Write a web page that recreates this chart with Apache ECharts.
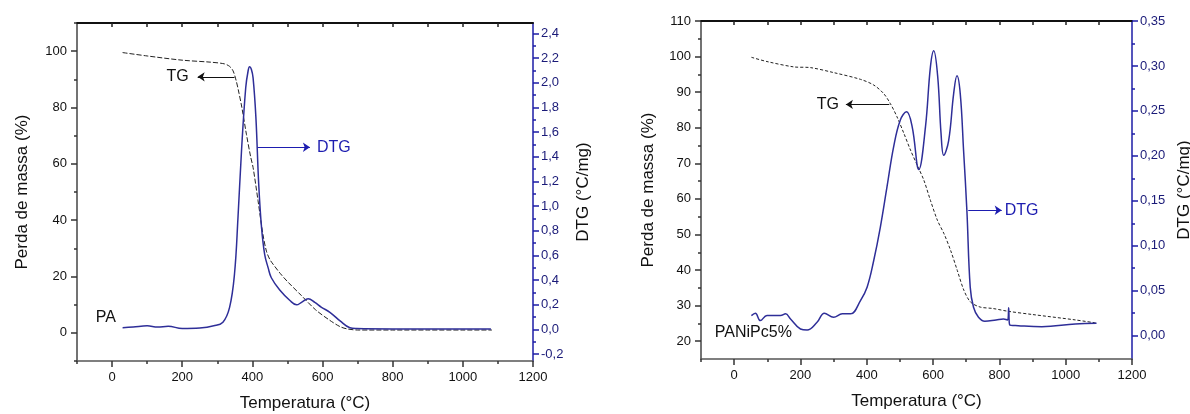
<!DOCTYPE html>
<html>
<head>
<meta charset="utf-8">
<script src="https://cdn.jsdelivr.net/npm/echarts@6/dist/echarts.min.js"></script>
<style>
html,body{margin:0;padding:0;background:#fff;}
#c{width:1190px;height:414px;}
</style>
</head>
<body>
<div id="c"></div>
<script>
// ---------- DATA ----------
// PA (left chart)
var paTgT  = [30,100,200,280,320,335,345,354,362,370,383,395,402,416,430,440,450,460,480,500,540,580,620,650,670,700,800,900,1000,1083];
var paTg   = [99.5,98.3,96.8,96.1,95.5,94.6,93.0,89.4,85.0,80.0,70.5,62.5,58.7,47.0,35.0,29.0,26.0,24.2,21.0,18.2,13.2,8.2,4.5,2.2,1.4,1.0,1.0,1.0,1.0,1.0];
var paDtgT = [30,60,100,130,160,200,250,290,316,335,349,359,369,381,388,392,397,402,410,418,426,435,445,454,478,507,526,540,559,578,597,621,650,678,697,800,900,1000,1080];
var paDtg  = [0.015,0.02,0.03,0.02,0.027,0.008,0.012,0.03,0.06,0.18,0.45,0.91,1.45,1.96,2.10,2.13,2.11,2.04,1.72,1.18,0.83,0.61,0.50,0.42,0.32,0.235,0.20,0.22,0.25,0.22,0.18,0.14,0.07,0.014,0.008,0.005,0.005,0.005,0.005];

// PANiPc5% (right chart)
var pcTgT  = [52,99,180,230,300,381,421,451,471,491,512,532,552,572,592,613,633,653,673,693,713,742,780,827,900,1028,1093];
var pcTg   = [99.8,98.6,97.1,96.9,95.5,93.6,92.0,89.6,86.8,83.1,78.4,73.7,69.5,65.3,59.6,54.0,50.2,45.5,39.9,34.3,31.0,29.6,29.2,28.4,27.5,26.0,25.1];
var pcDtgT = [52,64,79,99,140,155,170,200,220,250,272,300,326,351,381,401,421,441,461,481,501,520,537,557,577,592,602,614,624,632,647,662,672,682,692,702,712,722,737,756,790,812,825,828,831,857,928,1029,1093];
var pcDtg  = [0.0223,0.0249,0.0167,0.0223,0.0223,0.0242,0.0186,0.0074,0.0063,0.0149,0.0249,0.0204,0.0242,0.0242,0.039,0.0539,0.0836,0.1208,0.1654,0.21,0.2397,0.249,0.2323,0.1847,0.232,0.299,0.317,0.288,0.225,0.2007,0.217,0.269,0.289,0.269,0.206,0.139,0.054,0.0316,0.0204,0.016,0.0175,0.0186,0.0175,0.031,0.012,0.0111,0.0100,0.013,0.0137];

// Tick values
var xMajor   = [0,200,400,600,800,1000,1200];
var xMinor   = [-100,100,300,500,700,900,1100];
var xTop     = [0,100,200,300,400,500,600,700,800,900,1000,1100];
var paYMajor = [0,20,40,60,80,100];
var paYMinor = [-10,10,30,50,70,90,110];
var paDMajor = [-0.2,0,0.2,0.4,0.6,0.8,1.0,1.2,1.4,1.6,1.8,2.0,2.2,2.4];
var paDMinor = [-0.1,0.1,0.3,0.5,0.7,0.9,1.1,1.3,1.5,1.7,1.9,2.1,2.3];
var pcYMajor = [20,30,40,50,60,70,80,90,100,110];
var pcYMinor = [25,35,45,55,65,75,85,95,105];
var pcDMajor = [0,0.05,0.10,0.15,0.20,0.25,0.30,0.35];
var pcDMinor = [0.025,0.075,0.125,0.175,0.225,0.275,0.325];

function zip(a,b){return a.map(function(v,i){return [v,b[i]];});}

// ---------- STYLE ----------
var FONT = 'Liberation Sans';
var BLUE = '#2e2e98';
var AXBLUE = '#1c1ca6';
var LBLUE = '#1a1a78';

function xAxes(grid){
  return [
    {type:'value',gridIndex:grid,min:-100,max:1200,position:'bottom',
     name:'Temperatura (°C)',nameLocation:'middle',nameGap:34,
     nameTextStyle:{fontFamily:FONT,fontSize:17,color:'#111'},
     axisLine:{onZero:false,lineStyle:{color:'#555',width:1.5}},
     axisTick:{show:true,customValues:xMajor,length:6,lineStyle:{color:'#333',width:1.5}},
     axisLabel:{customValues:xMajor,margin:10,fontFamily:FONT,fontSize:13,color:'#111',
       formatter:function(v){return String(v);}},
     splitLine:{show:false}},
    {type:'value',gridIndex:grid,min:-100,max:1200,position:'bottom',
     axisLine:{show:false,onZero:false},
     axisTick:{show:true,customValues:xMinor,length:3,lineStyle:{color:'#333',width:1.5}},
     axisLabel:{show:false},splitLine:{show:false}},
    {type:'value',gridIndex:grid,min:-100,max:1200,position:'top',
     axisLine:{onZero:false,lineStyle:{color:'#111',width:2}},
     axisTick:{show:true,inside:true,customValues:xTop,length:4,lineStyle:{color:'#222',width:1.5}},
     axisLabel:{show:false},splitLine:{show:false}}
  ];
}

function yAxes(grid,ymin,ymax,yMaj,yMin,dmin,dmax,dMaj,dMin,dDec,gaps){
  return [
    {type:'value',gridIndex:grid,min:ymin,max:ymax,position:'left',
     name:'Perda de massa (%)',nameLocation:'middle',nameRotate:90,nameGap:gaps[0],
     nameTextStyle:{fontFamily:FONT,fontSize:17,color:'#111'},
     axisLine:{show:true,onZero:false,lineStyle:{color:'#444',width:1.5}},
     axisTick:{show:true,customValues:yMaj,length:6,lineStyle:{color:'#333',width:1.5}},
     axisLabel:{customValues:yMaj,margin:10,fontFamily:FONT,fontSize:13,color:'#111',
       formatter:function(v){return String(v);}},
     splitLine:{show:false}},
    {type:'value',gridIndex:grid,min:ymin,max:ymax,position:'left',
     axisLine:{show:false,onZero:false},
     axisTick:{show:true,customValues:yMin,length:3,lineStyle:{color:'#333',width:1.5}},
     axisLabel:{show:false},splitLine:{show:false}},
    {type:'value',gridIndex:grid,min:dmin,max:dmax,position:'right',
     name:'DTG (°C/mg)',nameLocation:'middle',nameRotate:90,nameGap:gaps[1],
     nameTextStyle:{fontFamily:FONT,fontSize:17,color:'#111'},
     axisLine:{show:true,onZero:false,lineStyle:{color:AXBLUE,width:1.5}},
     axisTick:{show:true,customValues:dMaj,length:6,lineStyle:{color:AXBLUE,width:1.5}},
     axisLabel:{customValues:dMaj,margin:8,fontFamily:FONT,fontSize:13,color:LBLUE,
       formatter:function(v){return v.toFixed(dDec).replace('.',',');}},
     splitLine:{show:false}},
    {type:'value',gridIndex:grid,min:dmin,max:dmax,position:'right',
     axisLine:{show:false,onZero:false},
     axisTick:{show:true,customValues:dMin,length:3,lineStyle:{color:AXBLUE,width:1.5}},
     axisLabel:{show:false},splitLine:{show:false}}
  ];
}

function arrowLine(x1,x2,y,text,color,dist){
  return {silent:true,symbol:['none','arrow'],symbolSize:[7,7],
    lineStyle:{color:color,width:1,type:'solid'},
    label:{show:true,position:'end',formatter:text,distance:dist,fontFamily:FONT,fontSize:16,color:color},
    emphasis:{disabled:true},
    data:[[{coord:[x1,y]},{coord:[x2,y]}]]};
}

function textPoint(x,y,text){
  return {silent:true,symbol:'circle',symbolSize:0,
    label:{show:true,position:'inside',formatter:text,fontFamily:FONT,fontSize:16,color:'#111'},
    data:[{coord:[x,y]}]};
}

var option = {
  animation:false,
  backgroundColor:'#fff',
  grid:[
    {left:77,top:23,width:456,height:338,outerBoundsMode:'none',containLabel:false},
    {left:701,top:21,width:431,height:338,outerBoundsMode:'none',containLabel:false}
  ],
  xAxis: xAxes(0).concat(xAxes(1)),
  yAxis: yAxes(0,-10,110,paYMajor,paYMinor,-0.255,2.485,paDMajor,paDMinor,1,[46,42])
         .concat(yAxes(1,15,110,pcYMajor,pcYMinor,-0.026,0.35,pcDMajor,pcDMinor,2,[44,44])),
  series:[
    {type:'line',name:'TG',xAxisIndex:0,yAxisIndex:0,data:zip(paTgT,paTg),
     showSymbol:false,smooth:0.3,lineStyle:{color:'#222',width:1,type:[5,2]},
     markLine:arrowLine(349,244,90.9,'TG','#111',9),
     markPoint:textPoint(-18,5.5,'PA')},
    {type:'line',name:'DTG',xAxisIndex:0,yAxisIndex:2,data:zip(paDtgT,paDtg),
     showSymbol:false,smooth:0.4,lineStyle:{color:BLUE,width:1.5},
     markLine:arrowLine(415,564,1.478,'DTG','#1d1db0',7)},
    {type:'line',name:'TG',xAxisIndex:3,yAxisIndex:4,data:zip(pcTgT,pcTg),
     showSymbol:false,smooth:0.3,lineStyle:{color:'#222',width:1,type:[3,2]},
     markLine:arrowLine(468,337,86.55,'TG','#111',7),
     markPoint:textPoint(58,22.5,'PANiPc5%')},
    {type:'line',name:'DTG',xAxisIndex:3,yAxisIndex:6,data:zip(pcDtgT,pcDtg),
     showSymbol:false,smooth:0.4,lineStyle:{color:BLUE,width:1.5},
     markLine:arrowLine(706,807,0.1395,'DTG','#1d1db0',3)}
  ]
};

var chart = echarts.init(document.getElementById('c'),null,{renderer:'canvas'});
chart.setOption(option);
</script>
</body>
</html>
